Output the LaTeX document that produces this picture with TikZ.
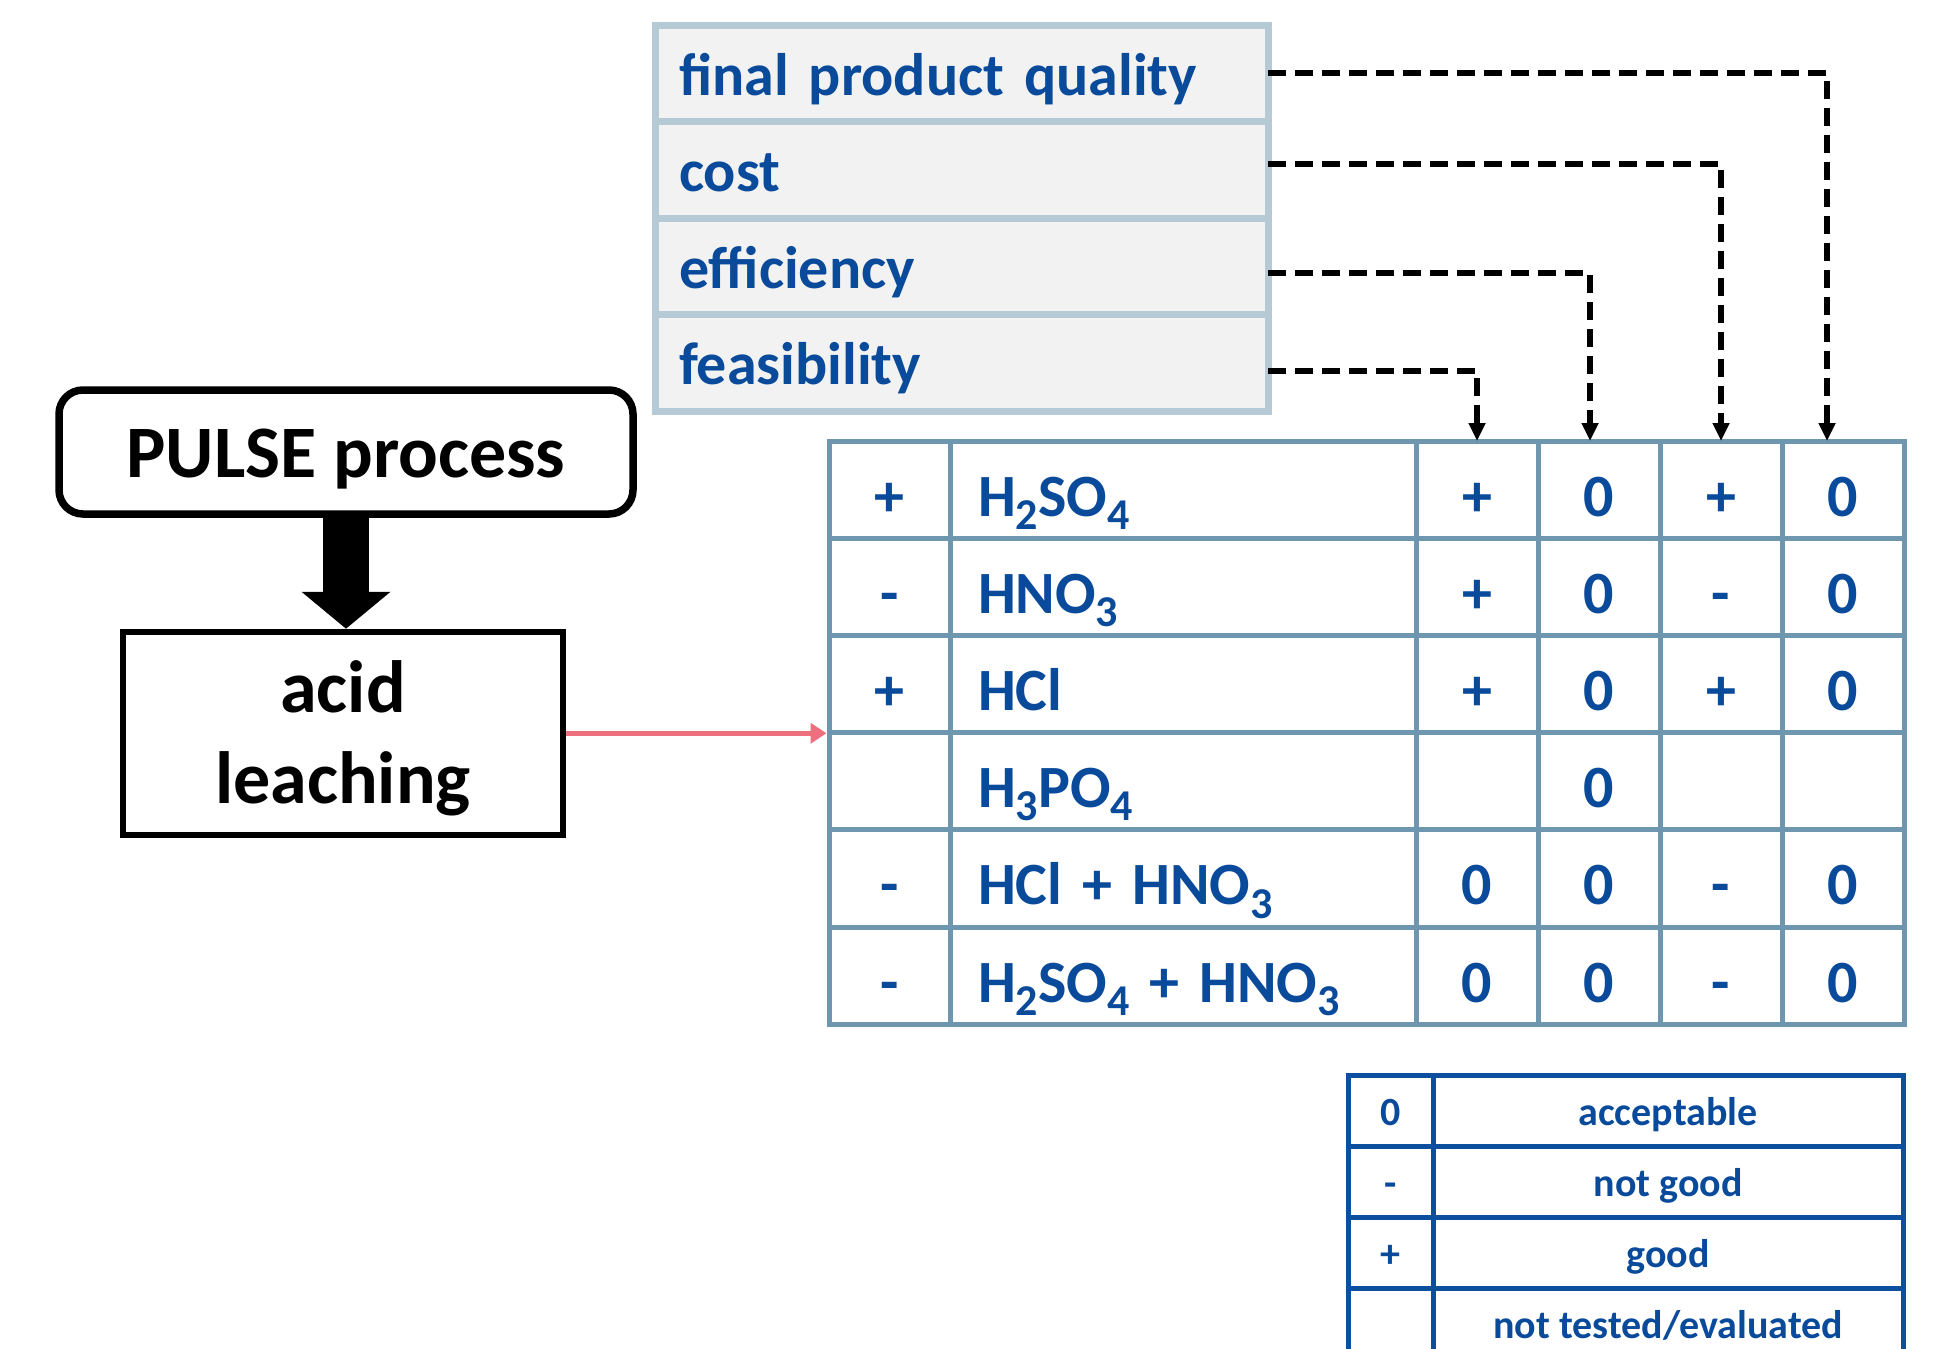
\documentclass[tikz,border=0pt]{standalone}
\usepackage{fontspec}
\setmainfont{Carlito}
\usepackage{xcolor}
\usepackage{tikz}
\usetikzlibrary{positioning,arrows.meta,matrix}
\definecolor{critfill}{RGB}{242,242,242}
\definecolor{critline}{RGB}{182,202,214}
\definecolor{tabline}{RGB}{110,150,174}
\definecolor{acidblue}{RGB}{10,74,155}
\definecolor{legline}{RGB}{12,79,159}
\definecolor{leachpink}{RGB}{238,112,126}
\newcommand{\chemsub}[1]{\raisebox{-0.22em}{\fontsize{22pt}{22pt}\selectfont #1}}
\tikzset{
  critcol/.style={matrix of nodes, ampersand replacement=\amp, inner sep=0pt, outer sep=0pt,
                  row sep=-3.5pt,
                  nodes={draw=critline, fill=critfill, line width=3.5pt, minimum width=306.5pt,
                         minimum height=48.25pt, text width=282.5pt, inner xsep=12pt, inner ysep=0pt,
                         align=left, text height=22pt, text depth=0pt, text=acidblue,
                         font=\bfseries\fontsize{30pt}{36pt}\selectfont}},
  acidtab/.style={matrix of nodes, ampersand replacement=\amp, nodes in empty cells,
                  inner sep=0pt, outer sep=0pt, row sep=-2.5pt, column sep=-2.5pt,
                  nodes={draw=tabline, line width=2.5pt, minimum height=48.6pt, minimum width=61pt,
                         inner sep=0pt, text height=28pt, text depth=1.5pt, text=acidblue,
                         font=\bfseries\fontsize{30pt}{36pt}\selectfont},
                  column 1/.style={nodes={minimum width=60.5pt}},
                  column 2/.style={nodes={minimum width=233pt, text width=205pt, inner xsep=14pt,
                                          align=left}}},
  legtab/.style={matrix of nodes, ampersand replacement=\amp, nodes in empty cells,
                 inner sep=0pt, outer sep=0pt, row sep=-2.5pt, column sep=-2.5pt,
                 nodes={draw=legline, line width=2.5pt, minimum height=35.5pt, inner sep=0pt,
                        text height=14.5pt, text depth=0pt, text=acidblue,
                        font=\bfseries\fontsize{20pt}{24pt}\selectfont},
                 column 1/.style={nodes={minimum width=42.5pt}},
                 column 2/.style={nodes={minimum width=235pt}}},
  pulsebox/.style={draw, line width=3.75pt, rounded corners=12pt, minimum width=287pt,
                   minimum height=62pt, inner sep=0pt, text height=25pt, text depth=0pt,
                   font=\bfseries\fontsize{37pt}{45.5pt}\selectfont},
  acidbox/.style={draw, line width=3pt, minimum width=220pt, minimum height=101.5pt, inner sep=0pt,
                  align=center, text height=70.5pt, text depth=0pt,
                  font=\bfseries\fontsize{37pt}{45.5pt}\selectfont},
  bigarrow/.style={line width=23pt, -{Triangle[length=18.5pt 0 0, width=43.5pt 0 0]}},
  leachlink/.style={line width=2.5pt, leachpink, -{Triangle[length=8pt, width=10pt]}},
  critlink/.style={line width=3pt, dash pattern=on 9pt off 4.5pt,
                   -{Triangle[length=9pt, width=8pt]}}
}

\begin{document}
\begin{tikzpicture}[x=1pt, y=-1pt]
\useasboundingbox (0,0) rectangle (977,674.5);
\clip (0,0) rectangle (977,674.5);
% rating criteria
\matrix (crit) [critcol, anchor=north west, at={(325.75,10.75)}] {
  final product quality \\
  cost \\
  efficiency \\
  feasibility \\
};
% acids tested for the leaching step
\matrix (tab) [acidtab, anchor=north west, at={(413.25,219.25)}] {
  + \amp H\chemsub{2}SO\chemsub{4} \amp + \amp 0 \amp + \amp 0 \\
  - \amp HNO\chemsub{3} \amp + \amp 0 \amp - \amp 0 \\
  + \amp HCl \amp + \amp 0 \amp + \amp 0 \\
    \amp H\chemsub{3}PO\chemsub{4} \amp \amp 0 \amp \amp \\
  - \amp HCl + HNO\chemsub{3} \amp 0 \amp 0 \amp - \amp 0 \\
  - \amp H\chemsub{2}SO\chemsub{4} + HNO\chemsub{3} \amp 0 \amp 0 \amp - \amp 0 \\
};
% key
\matrix (leg) [legtab, anchor=north west, at={(672.75,536.25)}] {
  0 \amp acceptable \\
  - \amp not good \\
  + \amp good \\
    \amp not tested/evaluated \\
};
\node[pulsebox] (pulse) at (173,226) {PULSE process};
\node[acidbox, below=55.5pt of pulse, xshift=-1.5pt] (acid) {acid\\leaching};
\draw[bigarrow] (pulse) -- (pulse |- acid.north);
\draw[leachlink] (acid.east) -- (acid.east -| tab.west);
\draw[critlink] (crit-1-1.east) -| ([xshift=-8pt]tab-1-6.north);
\draw[critlink] ([yshift=3pt]crit-2-1.east) -| (tab-1-5.north);
\draw[critlink] ([yshift=-3.5pt]crit-3-1.east) -| ([xshift=-4.5pt]tab-1-4.north);
\draw[critlink] ([yshift=-4pt]crit-4-1.east) -| (tab-1-3.north);
\end{tikzpicture}
\end{document}
